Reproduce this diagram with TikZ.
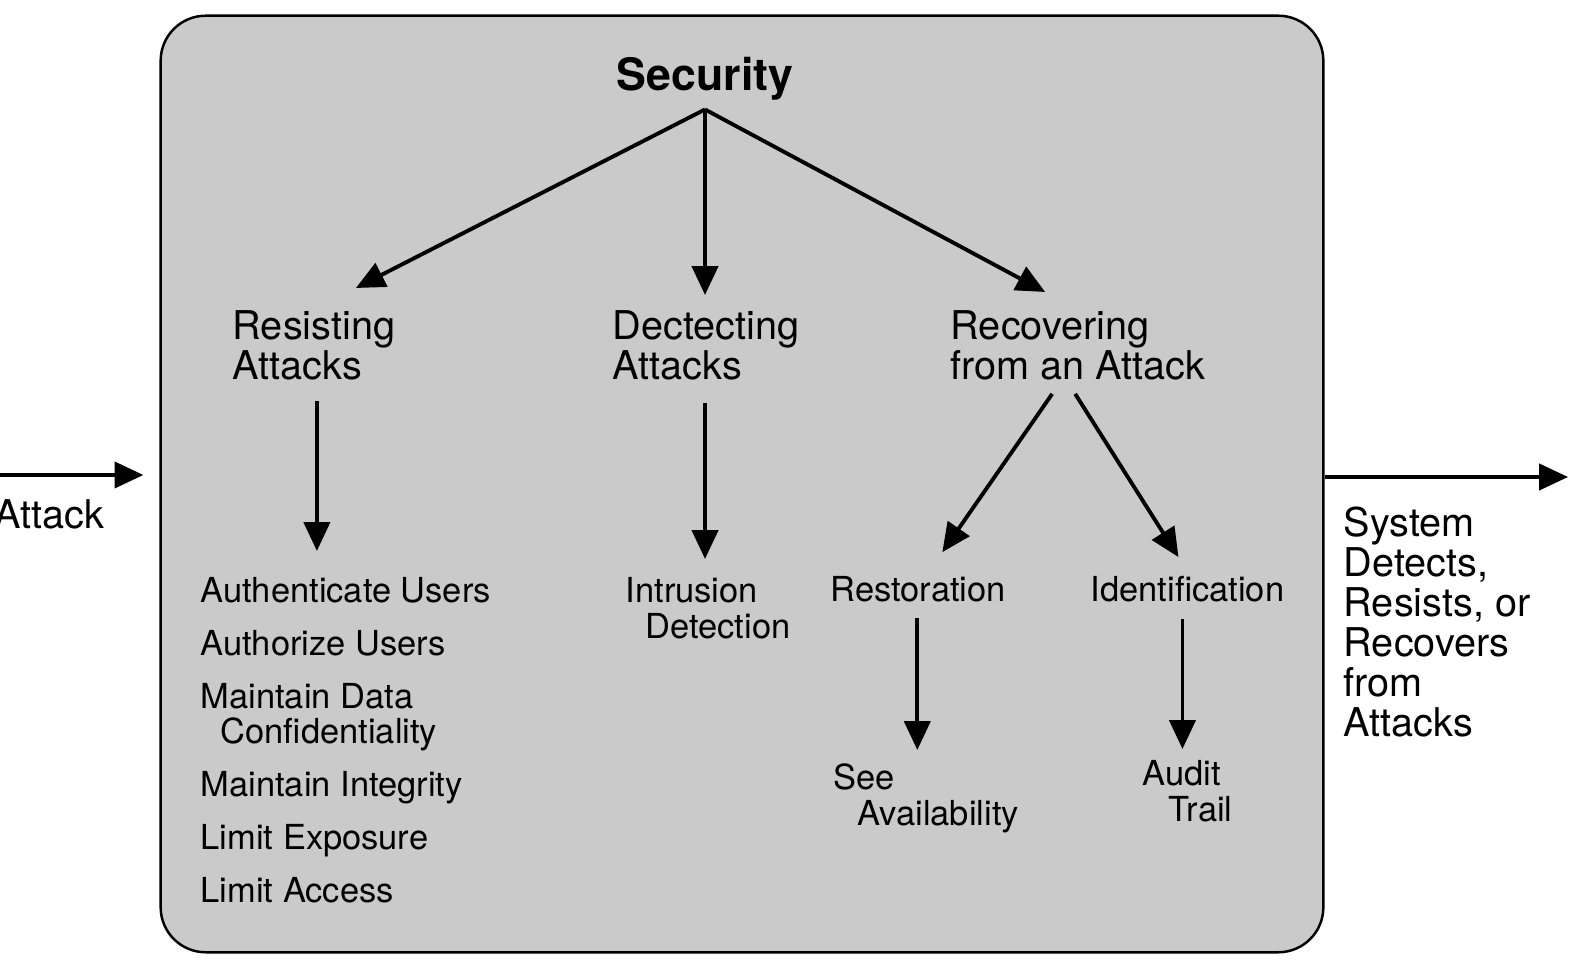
\documentclass[tikz,border=0pt]{standalone}
\usepackage{fontspec}
\setmainfont{TeX Gyre Heros}
\usetikzlibrary{arrows.meta,calc}
\definecolor{boxgray}{RGB}{202,202,202}
\begin{document}
\begin{tikzpicture}[x=0.01cm,y=-0.01cm,
  big/.style={font=\fontsize{11.27}{11.38}\selectfont, inner sep=0pt, align=left, anchor=north west},
  small/.style={font=\fontsize{9.8}{10.24}\selectfont, inner sep=0pt, align=left, anchor=north west},
  arr/.style={line width=1.1pt, -{Triangle[length=8.2pt,width=7.4pt]}},
]
\useasboundingbox (0,0) rectangle (1571,968);
\node[draw, fill=boxgray, rounded corners=0.45cm, minimum width=11.62cm, minimum height=9.36cm, inner sep=0pt, line width=0.7pt] (box) at (742,484) {};

\node[font=\bfseries\fontsize{12.7}{13}\selectfont, inner sep=0pt, anchor=base] (sec) at (705,91) {Security};
\node[big] (res) at (232,310) {Resisting\\Attacks};
\node[big] (det) at (612,310) {Dectecting\\Attacks};
\node[big] (rec) at (950,310) {Recovering\\from an Attack};
\node[small, font=\fontsize{9.8}{9.96}\selectfont] (resitems) at (200,577) {Authenticate Users\\[5.1pt]Authorize Users\\[5.1pt]Maintain Data\\\hspace*{0.2cm}Confidentiality\\[5.1pt]Maintain Integrity\\[5.1pt]Limit Exposure\\[5.1pt]Limit Access};
\node[small] (intr) at (625,577) {Intrusion\\\hspace*{0.2cm}Detection};
\node[small, anchor=base west] (rest) at (830,602) {Restoration};
\node[small, anchor=base west] (ident) at (1090,602) {Identification};
\node[small] (see) at (833,763) {See\\\hspace*{0.24cm}Availability};
\node[small] (audit) at (1142,760) {Audit\\\hspace*{0.26cm}Trail};
\node[big] (sys) at (1343,506) {System\\Detects,\\Resists, or\\Recovers\\from\\Attacks};
\node[big, anchor=base east] (att) at (105,529) {Attack};

\coordinate (inp) at (0,475);
\coordinate (outp) at (1568,477);

\draw[arr] ($(sec.south)+(0,8)$) -- ($(res.north)+(42,-22)$);
\draw[arr] ($(sec.south)+(0,8)$) -- ($(sec.south |- det.north)+(0,-15)$);
\draw[arr] ($(sec.south)+(0,8)$) -- ($(rec.north)+(-33,-18)$);
\draw[arr] ($(res.south)+(3,20)$) -- ($(res.south |- resitems.north)+(3,-26)$);
\draw[arr] ($(det.south)+(-1,22)$) -- ($(det.south |- intr.north)+(-1,-18)$);
\draw[arr] ($(rec.south)+(-26,13)$) -- ($(rest.north)+(24,-24)$);
\draw[arr] ($(rec.south)+(-3,13)$) -- ($(ident.north)+(-9,-19)$);
\draw[arr] ($(rest.south)+(-1,15)$) -- ($(rest.south |- see.north)+(-1,-13)$);
\draw[arr] ($(ident.south)+(-5,16)$) -- ($(ident.south |- audit.north)+(-5,-11)$);
\draw[arr, shorten >=0.16cm] (inp) -- (inp -| box.west);
\draw[arr] (outp -| box.east) -- (outp);
\end{tikzpicture}
\end{document}
